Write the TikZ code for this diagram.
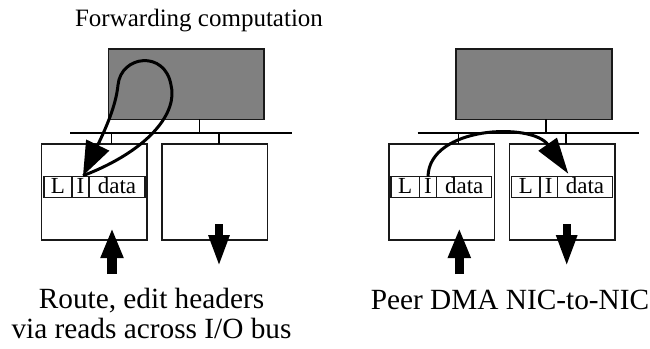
\documentclass[tikz,border=0pt]{standalone}
\usepackage{fontspec}
\setmainfont{Liberation Serif}
\usetikzlibrary{arrows.meta}
\begin{document}
\begin{tikzpicture}[x=1pt,y=-1pt,
  box/.style={draw=black!90, line width=1.5pt, inner sep=0pt, outer sep=0pt},
  cpu/.style={box, fill=gray, line width=1.7pt, minimum width=155.7pt, minimum height=70.3pt},
  nic/.style={box, fill=white, minimum width=105.5pt, minimum height=96pt},
  cell/.style={box, anchor=west, minimum height=20.6pt, text height=12.6pt, text depth=0pt,
               font=\fontsize{23}{23}\selectfont},
  bus/.style={line width=1.4pt},
  loopflow/.style={line width=3pt, -{Triangle[length=34pt,width=25pt]}},
  dmaflow/.style={line width=3pt, -{Triangle[length=36pt,width=22pt]}},
  upblock/.style={line width=9.3pt, -{Triangle[length=30pt,width=21pt]}},
  downblock/.style={line width=8.4pt, -{Triangle[length=32pt,width=19pt]}},
  caption/.style={anchor=base, font=\fontsize{29.3}{30}\selectfont},
]
\useasboundingbox (0,0) rectangle (650,348);

% ---------------- left diagram ----------------
\node[anchor=base, font=\fontsize{25}{28}\selectfont] (title) at (199,26) {Forwarding computation};
\node[cpu] (cpuL) at (186.2,84.2) {};
\node[nic] (nicA) at (94.3,192) {};
\node[nic] (nicB) at (214.5,192) {};

\coordinate (busLw) at (70,133);
\coordinate (busLe) at (292,133);
\coordinate (jL0) at (199.3,133);
\coordinate (jL1) at (111.7,133);
\coordinate (jL2) at (219,133);
\draw[bus] (jL0) -- (jL0 |- cpuL.south);
\draw[bus] (jL1) -- (jL1 |- nicA.north);
\draw[bus] (jL2) -- (jL2 |- nicB.north);
\draw[bus] (busLw) -- (busLe);

\node[cell, minimum width=28pt] (aL) at (44,187) {L};
\node[cell, minimum width=17pt] (aI) at (aL.east) {I};
\node[cell, minimum width=56pt] (aD) at (aI.east) {data};

\draw[loopflow] ([xshift=2.5pt,yshift=1pt]aI.north)
  .. controls (150,150) and (178,112) .. (171,85)
  .. controls (165,50) and (121,55) .. (118,85)
  .. controls (116,106) and (105,130) .. ([xshift=2.5pt,yshift=1pt]aI.north);

\coordinate (inAb) at (112,274);
\coordinate (inAt) at (112,228);
\draw[upblock] (inAb) -- (inAt);
\coordinate (outBt) at (219,224);
\coordinate (outBb) at (219,267);
\draw[downblock] (outBt) -- (outBb);

\node[caption] (capL1) at (151.5,308) {Route, edit headers};
\node[caption] (capL2) at (151.5,338.5) {via reads across I/O bus};

% ---------------- right diagram ----------------
\node[cpu] (cpuR) at (533.8,84.2) {};
\node[nic] (nicC) at (441.5,192) {};
\node[nic] (nicD) at (562.2,192) {};

\coordinate (busRw) at (417.7,133);
\coordinate (busRe) at (639.3,133);
\coordinate (jR0) at (546,133);
\coordinate (jR1) at (458.3,133);
\coordinate (jR2) at (566,133);
\draw[bus] (jR0) -- (jR0 |- cpuR.south);
\draw[bus] (jR1) -- (jR1 |- nicC.north);
\draw[bus] (jR2) -- (jR2 |- nicD.north);
\draw[bus] (busRw) -- (busRe);

\node[cell, minimum width=28.3pt] (cL) at (391,187) {L};
\node[cell, minimum width=17.4pt] (cI) at (cL.east) {I};
\node[cell, minimum width=55pt] (cD) at (cI.east) {data};

\node[cell, minimum width=28.3pt] (dL) at (511.7,187) {L};
\node[cell, minimum width=17.3pt] (dI) at (dL.east) {I};
\node[cell, minimum width=55.4pt] (dD) at (dI.east) {data};

\draw[dmaflow] (cI.north)
  .. controls (429,126) and (532,122) .. ([xshift=11pt,yshift=3pt]dD.north west);

\coordinate (inCb) at (459.3,274);
\coordinate (inCt) at (459.3,228);
\draw[upblock] (inCb) -- (inCt);
\coordinate (outDt) at (566.7,224);
\coordinate (outDb) at (566.7,267);
\draw[downblock] (outDt) -- (outDb);

\node[caption] (capR) at (510,309) {Peer DMA NIC-to-NIC};
\end{tikzpicture}
\end{document}
